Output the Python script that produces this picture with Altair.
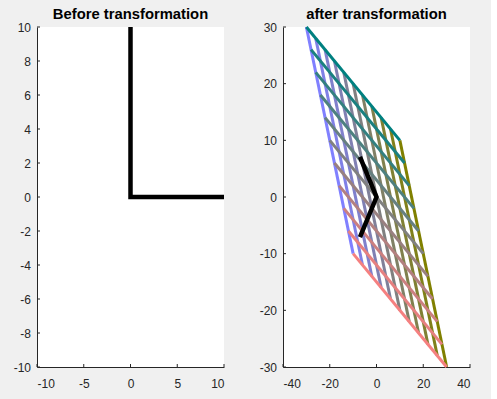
import altair as alt
import pandas as pd

# ---------------- data ----------------
titles = ["Before transformation", "after transformation"]

# Before transformation: black L shape
before_x = [0, 0, 10]
before_y = [10, 0, 0]

# After transformation: black bent line
after_x = [-7.07, 0, -7.07]
after_y = [7.07, 0, -7.07]

# Transformed grid, family A (parallel to top edge): from left edge to right edge
famA_x0 = [-30, -28, -26, -24, -22, -20, -18, -16, -14, -12, -10]
famA_y0 = [30, 26, 22, 18, 14, 10, 6, 2, -2, -6, -10]
famA_x1 = [10, 12, 14, 16, 18, 20, 22, 24, 26, 28, 30]
famA_y1 = [10, 6, 2, -2, -6, -10, -14, -18, -22, -26, -30]
famA_col = ["#008080", "#1a8080", "#338080", "#4d8080", "#668080", "#808080",
            "#998080", "#b38080", "#cc8080", "#e68080", "#f58080"]

# Transformed grid, family B (parallel to left edge): from top edge to bottom edge
famB_x0 = [-30, -26, -22, -18, -14, -10, -6, -2, 2, 6, 10]
famB_y0 = [30, 28, 26, 24, 22, 20, 18, 16, 14, 12, 10]
famB_x1 = [-10, -6, -2, 2, 6, 10, 14, 18, 22, 26, 30]
famB_y1 = [-10, -12, -14, -16, -18, -20, -22, -24, -26, -28, -30]
famB_col = ["#8080ff", "#8080e6", "#8080cc", "#8080b3", "#808099", "#808080",
            "#808066", "#80804d", "#808033", "#80801a", "#808000"]

# Axis ticks
left_xticks = [-10, -5, 0, 5, 10]
left_yticks = [-10, -8, -6, -4, -2, 0, 2, 4, 6, 8, 10]
right_xticks = [-40, -20, 0, 20, 40]
right_yticks = [-30, -20, -10, 0, 10, 20, 30]

# ---------------- styling ----------------
W, H = 187, 340
AX = "#262626"
FONT = "Liberation Sans"


def family_df(x0, y0, x1, y1, cols, tag):
    rows = []
    for i in range(len(x0)):
        rows.append({"line": f"{tag}{i}", "k": 0, "x": x0[i], "y": y0[i], "col": cols[i]})
        rows.append({"line": f"{tag}{i}", "k": 1, "x": x1[i], "y": y1[i], "col": cols[i]})
    return pd.DataFrame(rows)


def panel(title, xdom, ydom, xticks, yticks, layers):
    xs = alt.Scale(domain=xdom, nice=False, zero=False)
    ys = alt.Scale(domain=ydom, nice=False, zero=False)
    xax = alt.Axis(values=xticks, title=None, grid=False, ticks=False, tickSize=0,
                   labelPadding=11, labelExpr="'' + datum.value", domainColor=AX)
    yax = alt.Axis(values=yticks, title=None, grid=False, ticks=False, tickSize=0,
                   labelPadding=6.5, labelExpr="'' + datum.value", domainColor=AX)
    built = []
    for df, mk, extra in layers:
        enc = dict(
            x=alt.X("x:Q", scale=xs, axis=xax),
            y=alt.Y("y:Q", scale=ys, axis=yax),
        )
        enc.update(extra)
        built.append(alt.Chart(df).mark_line(**mk).encode(**enc))
    # inward ticks
    xt = alt.Chart(pd.DataFrame({"x": xticks})).mark_rule(color=AX, strokeWidth=1).encode(
        x=alt.X("x:Q", scale=xs, axis=xax), y=alt.value(H), y2=alt.value(H - 3))
    yt = alt.Chart(pd.DataFrame({"y": yticks})).mark_rule(color=AX, strokeWidth=1).encode(
        y=alt.Y("y:Q", scale=ys, axis=yax), x=alt.value(0), x2=alt.value(3))
    tt = alt.Chart(pd.DataFrame({"t": [title]})).mark_text(
        font=FONT, fontSize=14.8, fontWeight="bold", color="black",
        align="center", baseline="alphabetic",
    ).encode(text="t:N", x=alt.value(W / 2), y=alt.value(-8))
    return alt.layer(*built, xt, yt, tt).properties(width=W, height=H)


df_before = pd.DataFrame({"x": before_x, "y": before_y, "k": list(range(len(before_x)))})
df_after = pd.DataFrame({"x": after_x, "y": after_y, "k": list(range(len(after_x)))})
dfA = family_df(famA_x0, famA_y0, famA_x1, famA_y1, famA_col, "A")
dfB = family_df(famB_x0, famB_y0, famB_x1, famB_y1, famB_col, "B")

black_mark = dict(color="black", strokeWidth=4.5, strokeCap="butt", strokeJoin="miter")
grid_mark = dict(strokeWidth=3)
grid_enc = dict(detail="line:N", color=alt.Color("col:N", scale=None), order="k:Q")

left = panel(titles[0], [-10, 10], [-10, 10], left_xticks, left_yticks,
             [(df_before, black_mark, dict(order="k:Q"))])
right = panel(titles[1], [-40, 40], [-30, 30], right_xticks, right_yticks,
              [(dfB, grid_mark, grid_enc), (dfA, grid_mark, grid_enc),
               (df_after, black_mark, dict(order="k:Q"))])

chart = alt.hconcat(left, right, spacing=59, bounds="flush").properties(
    background="#f0f0f0",
    padding={"left": 13, "top": 7, "right": 20, "bottom": 10},
).configure_view(fill="white", strokeWidth=0).configure_axis(
    labelFont=FONT, labelFontSize=12, labelColor=AX, domainWidth=1,
)

chart.save("out.html", embed_options={"renderer": "svg", "actions": False})
